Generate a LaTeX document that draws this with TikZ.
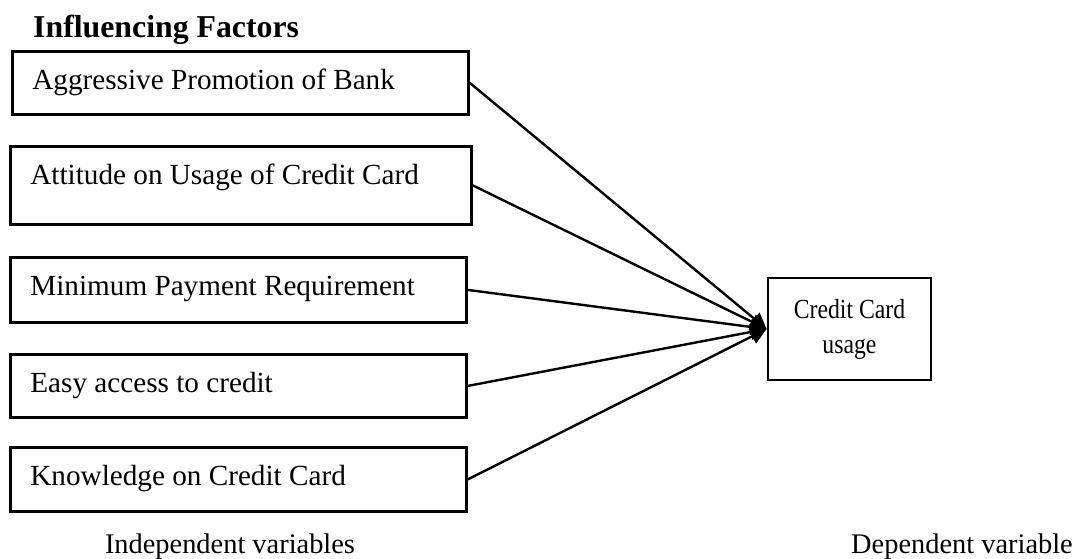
\documentclass[tikz,border=0pt]{standalone}
\usepackage{fontspec}
\usepackage{graphicx}
\setmainfont{Liberation Serif}
\usetikzlibrary{arrows.meta}

\begin{document}
\begin{tikzpicture}
  [x=0.5pt,y=-0.5pt,line width=1.2pt,
   factor/.style={draw,rectangle,line width=1.4pt,anchor=north west,align=left,text width=208pt,
     inner xsep=10pt,inner ysep=0pt,text height=19pt,text depth=12.5pt,
     font=\fontsize{14.6}{17.5}\selectfont,
     execute at begin node={\spaceskip=0pt\xspaceskip=0pt}},
   usage/.style={draw,rectangle,line width=1.4pt,align=center,minimum width=81.5pt,minimum height=51pt,
     font=\fontsize{13.8}{17.5}\selectfont},
   caption/.style={anchor=base,font=\fontsize{14.2}{17}\selectfont}]
  \useasboundingbox (0,0) rectangle (1083,558);
  \node[anchor=base west,inner sep=0pt,font=\fontsize{15.9}{19}\selectfont\bfseries] (title) at (32,37) {Influencing Factors};
  \node[factor] (fa) at (11,50)  {Aggressive Promotion of Bank};
  \node[factor,text width=210.5pt,text depth=20pt] (fb) at (9,145) {Attitude on Usage of Credit Card};
  \node[factor,text depth=13.5pt] (fc) at (9,256) {Minimum Payment Requirement};
  \node[factor] (fd) at (9,353)  {Easy access to credit};
  \node[factor,text depth=13pt] (fe) at (9,446) {Knowledge on Credit Card};
  \node[usage] (ccu) at (849.5,329) {\scalebox{0.86}[1]{\begin{tabular}{@{}c@{}}Credit Card\\usage\end{tabular}}};
  \node[caption] (indep) at (230,553) {Independent variables};
  \node[caption] (dep) at (962,553) {Dependent variable};
    \foreach \from in {fa,fb,fc,fd,fe}
    \draw[-{Triangle[length=8pt,width=8pt]}] (\from.east) -- (ccu.west);
  \end{tikzpicture}
\end{document}
